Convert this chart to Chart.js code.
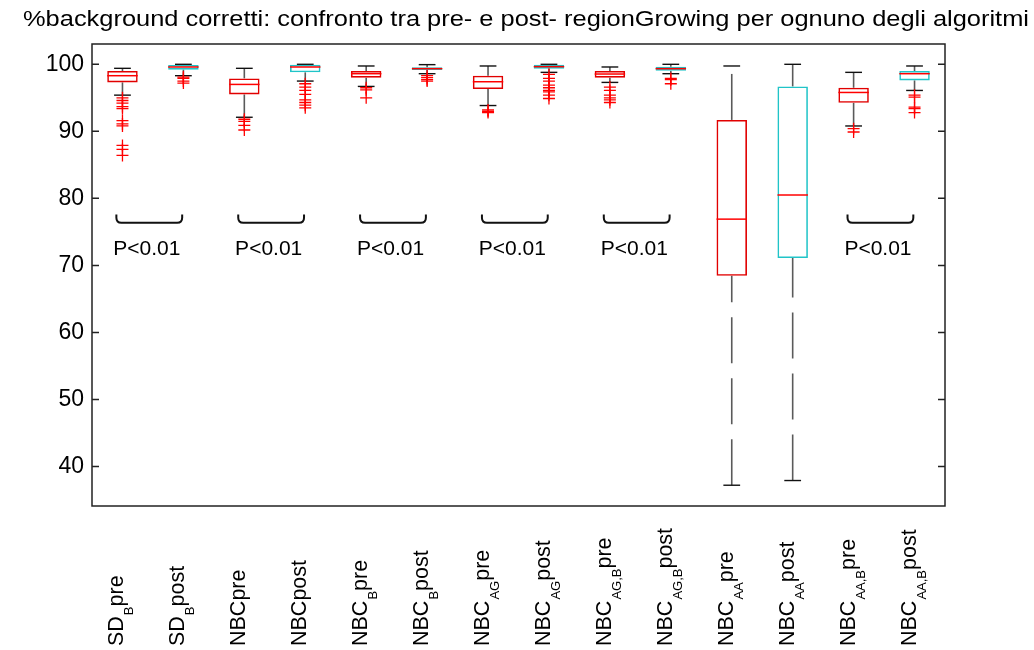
<!doctype html>
<html lang="it">
<head>
<meta charset="utf-8">
<script src="https://cdn.jsdelivr.net/npm/chart.js@4.4.1/dist/chart.umd.min.js"></script>
<title>%background corretti</title>
<style>
  body { margin: 0; background: #fff; }
</style>
</head>
<body>
<canvas id="boxChart" width="1034" height="650"></canvas>
<script>
// categorie e statistiche dei box
const categories = ['SD_B pre', 'SD_B post', 'NBCpre', 'NBCpost', 'NBC_B pre', 'NBC_B post',
  'NBC_AG pre', 'NBC_AG post', 'NBC_AG,B pre', 'NBC_AG,B post', 'NBC_AA pre', 'NBC_AA post',
  'NBC_AA,B pre', 'NBC_AA,B post'];
const labelMain = ['SD', 'SD', 'NBCpre', 'NBCpost', 'NBC', 'NBC', 'NBC', 'NBC', 'NBC', 'NBC', 'NBC', 'NBC', 'NBC', 'NBC'];
const labelSub  = ['B', 'B', '', '', 'B', 'B', 'AG', 'AG', 'AG,B', 'AG,B', 'AA', 'AA', 'AA,B', 'AA,B'];
const labelEnd  = ['pre', 'post', '', '', 'pre', 'post', 'pre', 'post', 'pre', 'post', 'pre', 'post', 'pre', 'post'];

const q1          = [97.3, 99.2, 95.5, 98.8, 98.0, 99.15, 96.3, 99.35, 98.0, 99.05, 68.45, 71.1, 94.25, 97.6];
const median      = [98.3, 99.6, 97.0, 99.6, 98.6, 99.35, 97.4, 99.65, 98.55, 99.35, 76.9, 80.5, 95.8, 98.6];
const q3          = [99.0, 99.9, 97.9, 99.95, 99.0, 99.55, 98.3, 99.95, 99.0, 99.65, 91.7, 96.7, 96.5, 99.0];
const whiskerLow  = [95.4, 98.3, 92.1, 97.5, 96.7, 98.6, 93.85, 98.8, 97.3, 98.6, 37.2, 37.9, 90.8, 96.1];
const whiskerHigh = [99.4, 100.0, 99.4, 100.0, 99.75, 99.95, 99.75, 100.0, 99.6, 100.0, 99.75, 100.0, 98.8, 99.75];
const outliers = [
  [95.0, 94.6, 94.2, 93.7, 93.4, 91.6, 91.1, 90.8, 87.9, 87.3, 86.4],
  [98.1, 97.9, 97.5, 97.2],
  [91.8, 91.5, 90.9, 90.2],
  [97.1, 96.6, 96.1, 95.5, 94.7, 94.3, 93.9, 93.5],
  [96.5, 96.2, 95.0],
  [98.3, 98.0, 97.7, 97.5],
  [93.2, 93.0, 92.8],
  [98.5, 97.9, 97.5, 96.9, 96.5, 96.1, 95.9, 95.4, 94.9],
  [96.6, 96.1, 95.4, 95.0, 94.7, 94.3],
  [97.9, 97.7, 97.1],
  [],
  [],
  [90.4, 89.9],
  [95.4, 95.1, 93.6, 93.4, 92.8]
];
const yTicks = [40, 50, 60, 70, 80, 90, 100];
const pairsWithP = [0, 2, 4, 6, 8, 12];
const pText = 'P<0.01';
const titleText = '%background corretti: confronto tra pre- e post- regionGrowing per ognuno degli algoritmi';

const FONT = 'Arial, "Liberation Sans", sans-serif';
const RED = 'rgb(225,0,0)';
const CYAN = 'rgb(32,196,200)';

const boxes = q1.map((v, i) => [v, q3[i]]);
const boxColors = categories.map((c, i) => i % 2 === 0 ? RED : CYAN);
const outlierPts = [];
outliers.forEach((list, i) => list.forEach(v => outlierPts.push({ x: categories[i], y: v })));

const boxExtras = {
  id: 'boxExtras',
  beforeDatasetsDraw(chart) {
    const ctx = chart.ctx, x = chart.scales.x, y = chart.scales.y;
    const bars = chart.getDatasetMeta(0).data;
    ctx.save();
    categories.forEach((c, i) => {
      const cx = x.getPixelForValue(i);
      const capW = bars[i].width * 0.55;
      // baffi tratteggiati, disegnati dal basso verso l'alto
      ctx.strokeStyle = '#5a5a5a';
      ctx.lineWidth = 1.6;
      ctx.setLineDash([46, 15]);
      [[q3[i], whiskerHigh[i]], [whiskerLow[i], q1[i]]].forEach(([a, b]) => {
        ctx.beginPath();
        ctx.moveTo(cx, y.getPixelForValue(a));
        ctx.lineTo(cx, y.getPixelForValue(b));
        ctx.stroke();
      });
      ctx.setLineDash([]);
      ctx.strokeStyle = '#111';
      ctx.lineWidth = 1.4;
      [whiskerHigh[i], whiskerLow[i]].forEach(v => {
        const py = y.getPixelForValue(v);
        ctx.beginPath();
        ctx.moveTo(cx - capW / 2, py);
        ctx.lineTo(cx + capW / 2, py);
        ctx.stroke();
      });
    });
    ctx.restore();
  },
  afterDatasetsDraw(chart) {
    const ctx = chart.ctx, x = chart.scales.x, y = chart.scales.y;
    const area = chart.chartArea;
    const bars = chart.getDatasetMeta(0).data;
    const catW = x.getPixelForValue(1) - x.getPixelForValue(0);
    ctx.save();

    // mediane
    ctx.strokeStyle = 'rgb(255,0,0)';
    ctx.lineWidth = 1.5;
    categories.forEach((c, i) => {
      const py = y.getPixelForValue(median[i]);
      ctx.beginPath();
      ctx.moveTo(bars[i].x - bars[i].width / 2, py);
      ctx.lineTo(bars[i].x + bars[i].width / 2, py);
      ctx.stroke();
    });

    // cornice e tacche interne
    ctx.strokeStyle = '#222';
    ctx.lineWidth = 1.5;
    ctx.strokeRect(area.left, area.top, area.right - area.left, area.bottom - area.top);
    yTicks.forEach(t => {
      const py = y.getPixelForValue(t);
      ctx.beginPath();
      ctx.moveTo(area.left, py); ctx.lineTo(area.left + 7, py);
      ctx.moveTo(area.right, py); ctx.lineTo(area.right - 7, py);
      ctx.stroke();
    });

    // parentesi e P<0.01
    ctx.strokeStyle = '#111';
    ctx.lineWidth = 2;
    ctx.fillStyle = '#000';
    ctx.font = '21px ' + FONT;
    ctx.textAlign = 'center';
    ctx.textBaseline = 'alphabetic';
    pairsWithP.forEach(i => {
      const xl = x.getPixelForValue(i) - 0.1 * catW;
      const xr = x.getPixelForValue(i + 1) - 0.02 * catW;
      const yb = y.getPixelForValue(76.35);
      const ye = y.getPixelForValue(77.6);
      const r = 5;
      ctx.beginPath();
      ctx.moveTo(xl, ye);
      ctx.lineTo(xl, yb - r);
      ctx.quadraticCurveTo(xl, yb, xl + r, yb);
      ctx.lineTo(xr - r, yb);
      ctx.quadraticCurveTo(xr, yb, xr, yb - r);
      ctx.lineTo(xr, ye);
      ctx.stroke();
      const mid = (x.getPixelForValue(i) + x.getPixelForValue(i + 1)) / 2 - 0.1 * catW;
      ctx.fillText(pText, mid, y.getPixelForValue(71.6));
    });

    // etichette asse x ruotate con pedici
    ctx.textAlign = 'left';
    categories.forEach((c, i) => {
      ctx.save();
      ctx.translate(x.getPixelForValue(i) + 1, 646);
      ctx.rotate(-Math.PI / 2);
      ctx.font = '21.5px ' + FONT;
      ctx.fillText(labelMain[i], 0, 0);
      let pos = ctx.measureText(labelMain[i]).width;
      if (labelSub[i]) {
        ctx.font = '13px ' + FONT;
        ctx.fillText(labelSub[i], pos + 1, 10);
        pos += ctx.measureText(labelSub[i]).width + 1;
      }
      if (labelEnd[i]) {
        ctx.font = '21.5px ' + FONT;
        ctx.fillText(labelEnd[i], pos, 0);
      }
      ctx.restore();
    });

    // titolo (leggermente allargato come nell'originale)
    ctx.font = '22px ' + FONT;
    ctx.textAlign = 'center';
    ctx.textBaseline = 'middle';
    const tw = ctx.measureText(titleText).width;
    ctx.translate(526, 20);
    ctx.scale(1006 / tw, 1);
    ctx.fillText(titleText, 0, 0);
    ctx.restore();
  }
};

const ctx = document.getElementById('boxChart').getContext('2d');
new Chart(ctx, {
  type: 'bar',
  data: {
    labels: categories,
    datasets: [
      {
        type: 'bar',
        data: boxes,
        backgroundColor: 'rgba(0,0,0,0)',
        borderColor: boxColors,
        borderWidth: 1.6,
        borderSkipped: false,
        barPercentage: 0.5,
        categoryPercentage: 1,
        order: 2
      },
      {
        type: 'line',
        data: outlierPts,
        showLine: false,
        pointStyle: 'cross',
        pointRadius: 6,
        pointBorderColor: 'rgb(255,0,0)',
        pointBorderWidth: 1.3,
        order: 1
      }
    ]
  },
  plugins: [boxExtras],
  options: {
    responsive: false,
    animation: false,
    devicePixelRatio: 1,
    layout: { padding: { left: 0, right: 89, top: 44, bottom: 144 } },
    scales: {
      x: { display: false, offset: true },
      y: {
        min: 34.1,
        max: 103.03,
        afterFit: s => { s.width = 92; },
        afterBuildTicks: s => { s.ticks = yTicks.map(v => ({ value: v })); },
        grid: { display: false, drawTicks: false },
        border: { display: false },
        ticks: { padding: 8, color: '#000', font: { size: 23, family: FONT } }
      }
    },
    plugins: {
      legend: { display: false },
      tooltip: { enabled: false },
      title: { display: false }
    }
  }
});
</script>
</body>
</html>
